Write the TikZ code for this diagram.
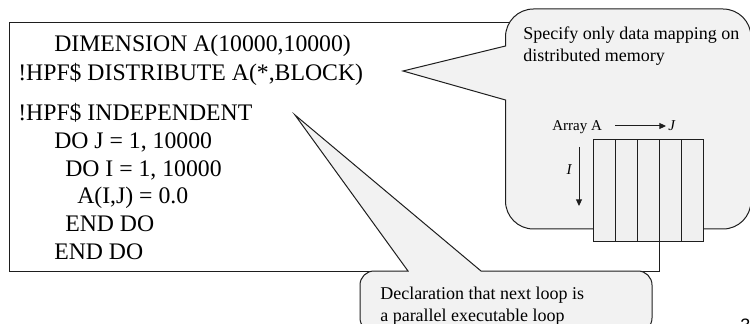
\documentclass[tikz,border=0pt]{standalone}
\usepackage{fontspec}
\setmainfont{Liberation Serif}
\newfontfamily\pagenumfont{Liberation Sans}
\usetikzlibrary{arrows.meta}
\definecolor{calloutfill}{HTML}{F2F2F2}
\definecolor{cellfill}{HTML}{F0F0F0}
\definecolor{edge}{HTML}{1E1E1E}

\begin{document}
\begin{tikzpicture}[x=0.75pt,y=-0.75pt,
  codeline/.style={anchor=base west,inner sep=0pt,font=\fontsize{17.8}{20}\selectfont},
  notetext/.style={anchor=base west,inner sep=0pt,font=\fontsize{13.5}{16}\selectfont},
  arraytext/.style={inner sep=0pt,font=\fontsize{11.25}{13}\selectfont},
  outline/.style={draw=edge,line width=0.75pt},
  dirarrow/.style={draw=edge,line width=0.75pt,-{Triangle[length=5pt,width=4.5pt]}}]
\useasboundingbox (0,0) rectangle (750,324);

% code listing frame
\draw[outline,fill=white] (9,23) rectangle (659,271);

% HPF source lines
\node[codeline] (l1) at (54,52)  {DIMENSION A(10000,10000)};
\node[codeline] (l2) at (18,81)  {!HPF\$ DISTRIBUTE A(*,BLOCK)};
\node[codeline] (l3) at (18,121) {!HPF\$ INDEPENDENT};
\node[codeline] (l4) at (54,149) {DO J = 1, 10000};
\node[codeline] (l5) at (65,177) {DO I = 1, 10000};
\node[codeline] (l6) at (77,204) {A(I,J) = 0.0};
\node[codeline] (l7) at (65,232) {END DO};
\node[codeline] (l8) at (54,259) {END DO};

% callout about the data distribution
\draw[outline,fill=calloutfill]
  (505.5,100) -- (403,71) -- (505.5,46) -- (505.5,37)
  .. controls (505.5,21.5) and (518,9) .. (533.5,9) -- (723,9)
  .. controls (738.5,9) and (751,21.5) .. (751,37) -- (751,201)
  .. controls (751,216.5) and (738.5,229) .. (723,229) -- (533.5,229)
  .. controls (518,229) and (505.5,216.5) .. (505.5,201) -- cycle;
\node[notetext] (note1) at (523,40) {Specify only data mapping on};
\node[notetext] (note2) at (523,62) {distributed memory};

% block-distributed array
\draw[outline,fill=cellfill] (593,140) rectangle (703,242);
\foreach \cx in {615,637,659,681}
  \draw[outline] (\cx,140) -- (\cx,242);

\node[arraytext,anchor=base west] (arrayname) at (552,131) {Array A};
\node[arraytext,anchor=base west] (jlabel) at (668,131) {\itshape J};
\node[arraytext] (ilabel) at (569,170) {\itshape I};
\coordinate (jfrom) at (615,126);
\coordinate (jto) at (666,126);
\coordinate (ifrom) at (579,147);
\coordinate (ito) at (579,206);
\draw[dirarrow] (jfrom) -- (jto);
\draw[dirarrow] (ifrom) -- (ito);

% callout about the INDEPENDENT directive
\draw[outline,fill=calloutfill]
  (360,285) .. controls (360,277.3) and (366.3,271) .. (374,271)
  -- (408,271) -- (295,115) -- (481,271) -- (638,271)
  .. controls (645.7,271) and (652,277.3) .. (652,285) -- (652,318)
  .. controls (652,325.7) and (645.7,332) .. (638,332) -- (374,332)
  .. controls (366.3,332) and (360,325.7) .. (360,318) -- cycle;
\node[notetext] (note3) at (380,299) {Declaration that next loop is};
\node[notetext] (note4) at (380,321) {a parallel executable loop};

% page number
\node[anchor=base west,inner sep=0pt,font=\pagenumfont\fontsize{13.5}{16}\selectfont] (pagenum) at (740,331) {3};
\end{tikzpicture}
\end{document}
